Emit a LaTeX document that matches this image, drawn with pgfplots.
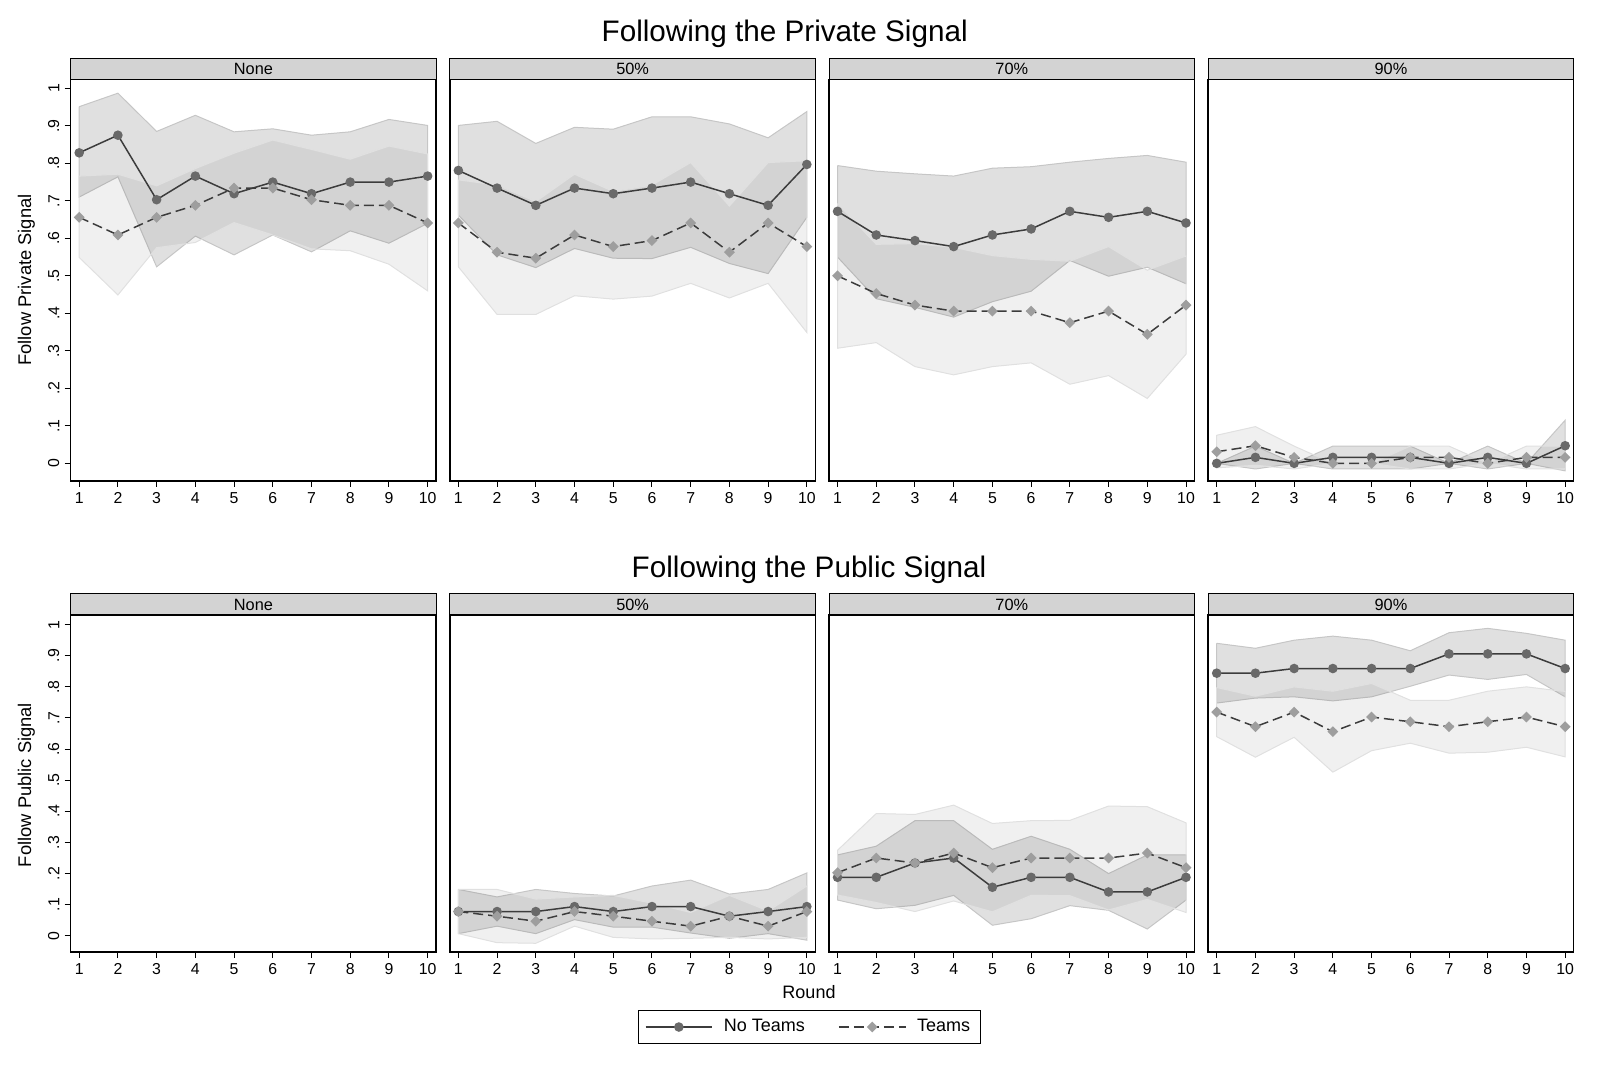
\documentclass[border=0pt]{standalone}
\usepackage{pgfplots}
\pgfplotsset{compat=1.18}
\usepackage{pgfplotstable}
\usepackage{fontspec}
\setmainfont{Liberation Sans}
\setsansfont{Liberation Sans}

\definecolor{ntline}{HTML}{3C3C3C}
\definecolor{ntmark}{HTML}{696969}
\definecolor{tmark}{HTML}{9E9E9E}
\definecolor{stripgray}{HTML}{D3D3D3}
\definecolor{edgeA}{HTML}{C6C6C6}
\definecolor{edgeB}{HTML}{E0E0E0}

% r: round; nt: share following, no teams; t: share following, teams
\pgfplotstableread{
r nt t
1 0.828 0.656
2 0.875 0.609
3 0.703 0.656
4 0.766 0.688
5 0.719 0.734
6 0.750 0.734
7 0.719 0.703
8 0.750 0.688
9 0.750 0.688
10 0.766 0.641
}\privNone

\pgfplotstableread{
r nt t
1 0.781 0.641
2 0.734 0.563
3 0.688 0.547
4 0.734 0.609
5 0.719 0.578
6 0.734 0.594
7 0.750 0.641
8 0.719 0.563
9 0.688 0.641
10 0.797 0.578
}\privFifty

\pgfplotstableread{
r nt t
1 0.672 0.500
2 0.609 0.453
3 0.594 0.422
4 0.578 0.406
5 0.609 0.406
6 0.625 0.406
7 0.672 0.375
8 0.656 0.406
9 0.672 0.344
10 0.641 0.422
}\privSeventy

\pgfplotstableread{
r nt t
1 0.000 0.031
2 0.016 0.047
3 0.000 0.016
4 0.016 0.000
5 0.016 0.000
6 0.016 0.016
7 0.000 0.016
8 0.016 0.000
9 0.000 0.016
10 0.047 0.016
}\privNinety

\pgfplotstableread{
r nt t
1 0.078 0.078
2 0.078 0.063
3 0.078 0.047
4 0.094 0.078
5 0.078 0.063
6 0.094 0.047
7 0.094 0.031
8 0.063 0.063
9 0.078 0.031
10 0.094 0.078
}\pubFifty

\pgfplotstableread{
r nt t
1 0.188 0.203
2 0.188 0.250
3 0.234 0.234
4 0.250 0.266
5 0.156 0.219
6 0.188 0.250
7 0.188 0.250
8 0.141 0.250
9 0.141 0.266
10 0.188 0.219
}\pubSeventy

\pgfplotstableread{
r nt t
1 0.844 0.719
2 0.844 0.672
3 0.859 0.719
4 0.859 0.656
5 0.859 0.703
6 0.859 0.688
7 0.906 0.672
8 0.906 0.688
9 0.906 0.703
10 0.859 0.672
}\pubNinety

\pgfplotsset{
  panel/.style={
    scale only axis, width=219.3pt, anchor=south west, clip=false,
    xmin=0.78, xmax=10.22,
    xtick={1,2,3,4,5,6,7,8,9,10},
    xticklabels={1,2,3,4,5,6,7,8,9,10},
    xtick pos=bottom, ytick pos=left, tick align=outside,
    major tick length=3.6pt,
    every tick/.style={black, line width=0.6pt},
    axis line style={black, line width=0.9pt},
    tick label style={font=\fontsize{9.5}{10}\selectfont},
    /pgf/number format/assume math mode=true,
  },
  toprow/.style={panel, height=241pt, ymin=-0.047, ymax=1.024},
  botrow/.style={panel, height=202.2pt, ymin=-0.052, ymax=1.031},
  withy/.style={
    ytick={0,0.1,0.2,0.3,0.4,0.5,0.6,0.7,0.8,0.9,1},
    yticklabels={0,.1,.2,.3,.4,.5,.6,.7,.8,.9,1},
    yticklabel style={rotate=90, anchor=south, inner sep=3pt},
  },
  noy/.style={ytick=\empty},
  bandA/.style={fill=black, fill opacity=0.12, draw=edgeA, draw opacity=1, line width=0.6pt, forget plot},
  bandB/.style={fill=black, fill opacity=0.06, draw=edgeB, draw opacity=1, line width=0.6pt, forget plot},
}

% the two series of a panel
\newcommand{\drawlines}[1]{%
  \addplot[ntline, line width=0.9pt, mark=*, mark size=2.4pt,
    mark options={fill=ntmark, draw=ntmark}] table[x=r,y=nt]{#1};
  \addplot[ntline, line width=0.9pt, dash pattern=on 6pt off 3pt,
    mark=square*, mark size=1.85pt,
    mark options={solid, rotate=45, fill=tmark, draw=tmark}] table[x=r,y=t]{#1};
}

% header strip above a panel
\newcommand{\panelstrip}[1]{%
  \draw[fill=stripgray, draw=black, line width=0.6pt]
    (rel axis cs:0,1) rectangle ([yshift=12.6pt]rel axis cs:1,1);
  \node[font=\fontsize{9.8}{11}\selectfont] at ([yshift=6.3pt]rel axis cs:0.5,1) {#1};
}

\begin{document}
\begin{tikzpicture}
\useasboundingbox (0,0) rectangle (960pt,642pt);

% ---- Following the private signal ----
\begin{axis}[toprow, withy, at={(42.4pt,353.4pt)}]
% 95% bands: upper limits forward, lower limits back
\addplot[bandA] coordinates {(1,0.951)(2,0.987)(3,0.885)(4,0.928)(5,0.884)(6,0.892)(7,0.875)(8,0.884)(9,0.917)(10,0.901)
  (10,0.640)(9,0.587)(8,0.620)(7,0.564)(6,0.609)(5,0.556)(4,0.606)(3,0.524)(2,0.764)(1,0.710)(1,0.951)};
\addplot[bandB] coordinates {(1,0.766)(2,0.771)(3,0.740)(4,0.786)(5,0.827)(6,0.862)(7,0.837)(8,0.811)(9,0.846)(10,0.825)
  (10,0.460)(9,0.531)(8,0.567)(7,0.572)(6,0.609)(5,0.642)(4,0.589)(3,0.575)(2,0.449)(1,0.549)(1,0.766)};
\drawlines{\privNone}
\panelstrip{None}
\end{axis}

\begin{axis}[toprow, noy, at={(269.9pt,353.4pt)}]
\addplot[bandA] coordinates {(1,0.901)(2,0.912)(3,0.853)(4,0.896)(5,0.891)(6,0.924)(7,0.924)(8,0.905)(9,0.868)(10,0.938)
  (10,0.656)(9,0.506)(8,0.533)(7,0.576)(6,0.546)(5,0.547)(4,0.573)(3,0.522)(2,0.556)(1,0.662)(1,0.901)};
\addplot[bandB] coordinates {(1,0.756)(2,0.742)(3,0.698)(4,0.771)(5,0.725)(6,0.742)(7,0.802)(8,0.686)(9,0.802)(10,0.807)
  (10,0.349)(9,0.480)(8,0.441)(7,0.480)(6,0.446)(5,0.438)(4,0.447)(3,0.397)(2,0.397)(1,0.524)(1,0.756)};
\drawlines{\privFifty}
\panelstrip{50\%}
\end{axis}

\begin{axis}[toprow, noy, at={(497.4pt,353.4pt)}]
\addplot[bandA] coordinates {(1,0.794)(2,0.779)(3,0.772)(4,0.766)(5,0.787)(6,0.791)(7,0.803)(8,0.813)(9,0.821)(10,0.803)
  (10,0.479)(9,0.523)(8,0.499)(7,0.541)(6,0.459)(5,0.431)(4,0.390)(3,0.416)(2,0.439)(1,0.550)(1,0.794)};
\addplot[bandB] coordinates {(1,0.693)(2,0.584)(3,0.586)(4,0.576)(5,0.554)(6,0.544)(7,0.539)(8,0.578)(9,0.515)(10,0.553)
  (10,0.291)(9,0.173)(8,0.234)(7,0.211)(6,0.268)(5,0.258)(4,0.236)(3,0.258)(2,0.322)(1,0.307)(1,0.693)};
\drawlines{\privSeventy}
\panelstrip{70\%}
\end{axis}

\begin{axis}[toprow, noy, at={(724.9pt,353.4pt)}]
\addplot[bandA] coordinates {(1,0)(2,0.046)(3,0)(4,0.046)(5,0.046)(6,0.046)(7,0)(8,0.046)(9,0)(10,0.115)
  (10,-0.020)(9,0)(8,-0.015)(7,0)(6,-0.015)(5,-0.015)(4,-0.015)(3,0)(2,-0.015)(1,0)(1,0)};
\addplot[bandB] coordinates {(1,0.075)(2,0.098)(3,0.046)(4,0)(5,0)(6,0.046)(7,0.046)(8,0)(9,0.046)(10,0.046)
  (10,-0.015)(9,-0.015)(8,0)(7,-0.015)(6,-0.015)(5,0)(4,0)(3,-0.015)(2,-0.005)(1,-0.012)(1,0.075)};
\drawlines{\privNinety}
\panelstrip{90\%}
\end{axis}

% ---- Following the public signal ----
\begin{axis}[botrow, withy, at={(42.4pt,70.8pt)}]
% no observations in this treatment: the panel stays empty
\addplot[draw=none, forget plot] coordinates {(1,0) (10,1)};
\panelstrip{None}
\end{axis}

\begin{axis}[botrow, noy, at={(269.9pt,70.8pt)},
  legend style={at={(0.983,-0.2226)}, anchor=center, draw=black, line width=0.6pt,
    font=\fontsize{10.8}{12}\selectfont, inner xsep=4pt, inner ysep=3.5pt,
    /tikz/every odd column/.append style={column sep=4.5pt},
    /tikz/every even column/.append style={column sep=18pt}},
  legend columns=2,
  legend image code/.code={\draw[mark repeat=2,mark phase=2]
    plot coordinates {(0pt,0pt) (20pt,0pt) (40pt,0pt)};}]
\addplot[bandA] coordinates {(1,0.149)(2,0.125)(3,0.149)(4,0.136)(5,0.128)(6,0.160)(7,0.179)(8,0.134)(9,0.149)(10,0.202)
  (10,-0.014)(9,0.007)(8,-0.008)(7,0.009)(6,0.028)(5,0.028)(4,0.052)(3,0.007)(2,0.031)(1,0.007)(1,0.149)};
\addplot[bandB] coordinates {(1,0.149)(2,0.149)(3,0.118)(4,0.125)(5,0.130)(6,0.105)(7,0.075)(8,0.130)(9,0.080)(10,0.160)
  (10,-0.005)(9,-0.010)(8,-0.005)(7,-0.008)(6,-0.010)(5,-0.005)(4,0.031)(3,-0.024)(2,-0.022)(1,0.007)(1,0.149)};
\drawlines{\pubFifty}
\addlegendentry{No Teams}
\addlegendentry{Teams}
\panelstrip{50\%}
\end{axis}

\begin{axis}[botrow, noy, at={(497.4pt,70.8pt)}]
\addplot[bandA] coordinates {(1,0.260)(2,0.288)(3,0.370)(4,0.370)(5,0.278)(6,0.320)(7,0.278)(8,0.200)(9,0.260)(10,0.260)
  (10,0.115)(9,0.022)(8,0.082)(7,0.097)(6,0.055)(5,0.034)(4,0.130)(3,0.098)(2,0.087)(1,0.115)(1,0.260)};
\addplot[bandB] coordinates {(1,0.275)(2,0.393)(3,0.390)(4,0.420)(5,0.361)(6,0.370)(7,0.371)(8,0.417)(9,0.415)(10,0.363)
  (10,0.075)(9,0.117)(8,0.083)(7,0.129)(6,0.130)(5,0.077)(4,0.112)(3,0.078)(2,0.107)(1,0.131)(1,0.275)};
\drawlines{\pubSeventy}
\panelstrip{70\%}
\end{axis}

\begin{axis}[botrow, noy, at={(724.9pt,70.8pt)}]
\addplot[bandA] coordinates {(1,0.940)(2,0.924)(3,0.950)(4,0.963)(5,0.950)(6,0.916)(7,0.974)(8,0.988)(9,0.972)(10,0.950)
  (10,0.768)(9,0.840)(8,0.824)(7,0.838)(6,0.802)(5,0.768)(4,0.755)(3,0.768)(2,0.764)(1,0.748)(1,0.940)};
\addplot[bandB] coordinates {(1,0.798)(2,0.770)(3,0.800)(4,0.786)(5,0.811)(6,0.757)(7,0.757)(8,0.786)(9,0.800)(10,0.785)
  (10,0.575)(9,0.606)(8,0.590)(7,0.587)(6,0.619)(5,0.595)(4,0.526)(3,0.638)(2,0.574)(1,0.640)(1,0.798)};
\drawlines{\pubNinety}
\panelstrip{90\%}
\end{axis}

% titles and axis labels
\node[font=\fontsize{17.8}{20}\selectfont] at (470.8pt,621.8pt) {Following the Private Signal};
\node[font=\fontsize{17.8}{20}\selectfont] at (485.4pt,300pt) {Following the Public Signal};
\node[rotate=90, font=\fontsize{11}{13}\selectfont] at (15.8pt,474pt) {Follow Private Signal};
\node[rotate=90, font=\fontsize{11}{13}\selectfont] at (15.8pt,171pt) {Follow Public Signal};
\node[font=\fontsize{10.8}{12}\selectfont] at (485.4pt,46.8pt) {Round};
\end{tikzpicture}
\end{document}
